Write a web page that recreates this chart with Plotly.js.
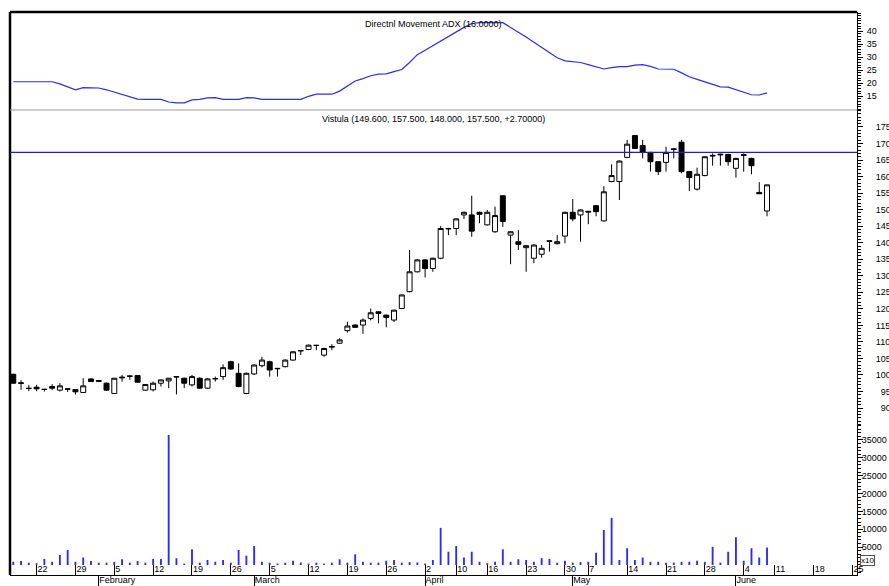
<!DOCTYPE html>
<html>
<head>
<meta charset="utf-8">
<script src="https://cdn.plot.ly/plotly-3.0.1.min.js"></script>
<style>html,body{margin:0;padding:0;background:#fff;}#chart{width:889px;height:586px;}</style>
</head>
<body>
<div id="chart"></div>
<script>
// ---------- data ----------
const firstDay = '2007-01-17';
const lastAxisDay = '2007-06-25';
const holidays = ['2007-04-06','2007-04-09','2007-05-01','2007-05-03','2007-06-07'];

const opens = [100.2,97.4,96.0,96.3,95.7,96.5,95.4,95.8,95.6,94.7, 98.8,98.3,97.5,94.4,99.1,99.7,99.8,95.4,95.5,97.5,
  98.2,99.5,99.0,97.0,99.0,96.0,98.8,99.5,104.0,100.5, 94.4,100.3,102.8,104.0,102.0,102.5,104.5,107.4,107.7,109.0,
  106.0,108.4,109.6,113.4,115.1,115.1,117.1,119.1,118.1,116.6, 120.1,125.2,131.2,134.8,132.2,135.3,144.3,144.3,148.4,148.4,
  149.2,145.4,143.3,154.2,142.3,140.3,138.5,135.3,136.5,140.6, 139.7,142.0,149.2,148.4,149.5,151.2,146.6,158.5,158.5,165.8,
  172.4,169.4,167.3,164.5,164.3,168.4,170.4,161.5,156.2,160.3, 166.2,166.8,166.7,162.5,166.4,165.5,155.2,149.6];
const highs = [100.4,98.4,97.0,97.0,95.8,97.2,97.5,95.9,95.7,99.0, 99.0,98.4,97.7,99.1,100.0,99.8,100.0,97.2,98.0,98.6,
  99.1,99.6,99.2,100.0,99.3,99.0,99.5,103.2,104.3,103.5, 100.7,103.2,105.5,104.3,102.1,104.7,107.2,107.5,109.2,109.1,
  108.2,109.3,111.1,116.1,115.3,117.1,120.1,119.2,118.2,119.7, 124.3,137.8,135.0,135.0,135.5,145.0,144.5,147.4,149.4,154.2,
  149.4,149.9,150.9,154.4,143.5,143.8,139.3,139.5,139.3,140.7, 142.3,149.4,153.2,150.1,149.6,151.4,157.1,163.7,164.9,171.1,
  172.6,171.1,167.5,164.7,169.0,168.5,171.1,161.7,162.7,166.2, 167.0,166.9,166.9,165.7,167.0,165.7,158.3,157.5];
const lows = [97.3,95.5,95.1,95.1,95.0,95.4,95.0,94.9,94.1,94.6, 97.9,97.9,95.2,94.3,98.0,98.5,97.7,95.2,95.0,96.5,
  96.0,94.1,96.0,96.5,95.8,95.8,98.0,98.5,101.5,96.3, 94.2,100.0,102.3,99.5,99.5,102.3,104.3,106.0,107.5,107.5,
  105.5,107.5,109.4,112.8,114.2,112.4,116.5,115.6,114.4,116.0, 120.0,125.0,131.0,129.5,131.2,135.0,142.3,142.3,147.2,141.8,
  145.9,145.2,143.0,144.8,133.5,137.8,131.2,133.8,135.5,137.3, 139.5,139.8,146.5,140.3,145.6,148.0,146.4,158.3,152.9,165.6,
  168.3,165.5,161.5,160.5,161.5,165.5,161.0,155.6,155.8,160.1, 163.3,163.3,163.3,159.7,161.5,160.7,154.8,148.0];
const closes = [97.5,97.6,95.9,95.8,95.6,96.0,96.7,95.7,94.9,96.7, 98.0,98.1,95.4,99.0,99.3,99.6,97.8,97.1,97.5,98.5,
  99.0,99.4,97.5,99.5,96.0,98.8,98.9,102.2,101.8,96.5, 100.5,103.0,104.5,101.5,101.9,104.5,107.0,107.3,109.0,108.9,
  108.0,108.6,110.6,114.8,114.4,116.6,118.8,118.6,117.4,119.6, 124.2,131.2,134.8,132.2,135.3,144.3,144.2,147.2,149.2,143.5,
  148.6,149.2,148.2,146.4,143.3,139.5,139.1,139.3,138.3,140.4, 140.3,149.2,147.2,149.9,149.3,149.4,155.4,160.3,164.7,169.8,
  168.5,167.3,164.5,161.5,167.3,168.2,161.5,159.7,160.7,166.0, 166.4,166.6,164.5,165.5,166.6,163.3,154.8,157.5];
const volumes = [900,1100,650,500,1700,900,2800,4200,900,2100, 1100,650,650,900,1600,650,1100,650,1700,1700,
  36400,1900,400,4400,650,1400,900,1400,650,4200, 2600,5300,900,650,400,650,1200,700,400,650,
  400,650,1600,650,3000,900,650,650,1200,1400, 650,800,700,400,1400,10400,3700,5300,2100,3700,
  900,500,900,4400,900,1600,1400,900,1900,1700, 650,1200,650,800,900,3400,9800,13200,1400,4700,
  1400,2100,900,900,650,650,900,900,1200,900, 5100,650,3700,7800,1200,4700,2100,4900];
const adx = [20.6,20.6,20.6,20.6,20.6,20.6,19.8,18.5,17.5,18.3, 18.3,18.2,17.5,16.6,15.7,14.8,13.9,13.8,13.8,13.8,
  12.8,12.5,12.5,13.6,13.8,14.4,14.5,13.8,13.8,13.8, 14.5,14.4,13.8,13.8,13.8,13.8,13.8,13.8,15.0,15.8,
  15.8,15.8,17.0,19.0,20.9,21.8,22.9,23.5,23.6,24.5, 25.3,28.0,31.0,32.7,34.5,36.3,38.0,39.8,41.5,43.0,
  43.3,43.3,43.3,43.3,41.5,39.8,37.8,35.8,33.8,31.8, 29.8,28.6,28.3,28.0,27.2,26.2,25.5,26.0,26.4,26.4,
  27.0,27.2,26.5,25.5,25.4,25.4,24.0,22.5,21.5,20.5, 19.5,18.6,18.5,17.5,16.5,15.6,15.5,16.3];
const resistanceLevel = 167.3;

const weekTickDates = ['2007-01-22','2007-01-29','2007-02-05','2007-02-12','2007-02-19','2007-02-26','2007-03-05',
  '2007-03-12','2007-03-19','2007-03-26','2007-04-02','2007-04-10','2007-04-16','2007-04-23','2007-04-30','2007-05-07',
  '2007-05-14','2007-05-21','2007-05-28','2007-06-04','2007-06-11','2007-06-18','2007-06-25'];
const weekTickLabels = ['22','29','5','12','19','26','5','12','19','26','2','10','16','23','30','7','14','21','28','4','11','18','25'];
const monthTickDates = ['2007-02-01','2007-03-01','2007-04-02','2007-05-02','2007-06-01'];
const monthTickLabels = ['February','March','April','May','June'];

const adxTicks = [15,20,25,30,35,40];
const priceTicks = [90,95,100,105,110,115,120,125,130,135,140,145,150,155,160,165,170,175];
const volumeTicks = [5000,10000,15000,20000,25000,30000,35000];

// ---------- trading calendar (x positions = trading-day index) ----------
const tradingDays = [];
(function(){
  let d = new Date(firstDay + 'T00:00:00Z');
  const end = new Date(lastAxisDay + 'T00:00:00Z');
  while (d <= end) {
    const wd = d.getUTCDay();
    const s = d.toISOString().slice(0,10);
    if (wd !== 0 && wd !== 6 && holidays.indexOf(s) < 0) tradingDays.push(s);
    d = new Date(d.getTime() + 86400000);
  }
})();
const dates = tradingDays.slice(0, closes.length);
const xIdx = dates.map((d,i)=>i);
const weekTickIdx = weekTickDates.map(d=>tradingDays.indexOf(d));
const monthTickIdx = monthTickDates.map(d=>tradingDays.indexOf(d));

const xRange = [-0.42, 108.58];
const n = closes.length;
const chg = closes[n-1] - closes[n-2];
const titleText = 'Vistula (' + opens[n-1].toFixed(3) + ', ' + highs[n-1].toFixed(3) + ', ' + lows[n-1].toFixed(3) + ', ' +
   closes[n-1].toFixed(3) + ', ' + (chg >= 0 ? '+' : '') + chg.toFixed(5) + ')';

const pad3 = a => a.map(v => { const s = String(v); return s.length < 3 ? '\u2007' + s : s; });

// ---------- geometry ----------
const dAdx = [0.82927, 1];
const dPrice = [0.28049, 0.82927];
const dVol = [0.019164, 0.28049];
const blue = '#2b2bff';
const tickFont = {family:'Liberation Sans, Arial, sans-serif', size:9, color:'#000'};

const traces = [
  {type:'scatter', mode:'lines', x:xIdx, y:adx, xaxis:'x', yaxis:'y', line:{color:blue, width:1.2}, hoverinfo:'skip'},
  {type:'candlestick', x:xIdx, open:opens, high:highs, low:lows, close:closes, xaxis:'x', yaxis:'y2',
   whiskerwidth:0,
   increasing:{line:{color:'#000', width:1}, fillcolor:'#ffffff'},
   decreasing:{line:{color:'#000', width:1}, fillcolor:'#000000'}, hoverinfo:'skip'},
  {type:'bar', x:xIdx, y:volumes, xaxis:'x', yaxis:'y3', width:0.24, marker:{color:blue, line:{width:0}}, hoverinfo:'skip'},
  {type:'scatter', mode:'markers', x:[], y:[], xaxis:'x2', yaxis:'y3', hoverinfo:'skip'}
];

const yBase = {side:'right', anchor:'x', showline:true, linecolor:'#000', linewidth:1, ticks:'outside', ticklen:5,
  tickcolor:'#000', tickwidth:1, showgrid:false, zeroline:false, tickmode:'array', tickfont:tickFont, fixedrange:true};

const layout = {
  width:889, height:586,
  margin:{l:10, r:32, t:12, b:0, pad:0},
  paper_bgcolor:'#fff', plot_bgcolor:'#fff',
  showlegend:false, hovermode:false,
  font:tickFont,
  boxgap:0.2, boxgroupgap:0.2,
  xaxis:{range:xRange, anchor:'y3', tickmode:'array', tickvals:weekTickIdx, ticktext:weekTickLabels,
    ticks:'inside', ticklen:10, tickcolor:'#000', tickwidth:1, ticklabelposition:'inside right', ticklabeloverflow:'allow',
    ticklabelstandoff:-3,
    showline:true, linecolor:'#000', linewidth:1, showgrid:false, zeroline:false, rangeslider:{visible:false},
    tickfont:tickFont, fixedrange:true},
  xaxis2:{range:xRange, anchor:'free', position:0, overlaying:'x', tickmode:'array', tickvals:monthTickIdx,
    ticktext:monthTickLabels, ticks:'inside', ticklen:11, tickcolor:'#000', tickwidth:1,
    ticklabelposition:'inside right', ticklabeloverflow:'allow', ticklabelstandoff:-5,
    showline:false, showgrid:false, zeroline:false,
    tickfont:tickFont, fixedrange:true},
  yaxis:Object.assign({}, yBase, {domain:dAdx, range:[9.73, 47.42], tickvals:adxTicks, ticktext:adxTicks.map(String),
    ticklabelstandoff:2, minor:{ticks:'outside', ticklen:3, tickcolor:'#000', tickmode:'linear', tick0:0, dtick:1}}),
  yaxis2:Object.assign({}, yBase, {domain:dPrice, range:[84.86, 180.14], tickvals:priceTicks, ticktext:pad3(priceTicks),
    ticklabelstandoff:11, minor:{ticks:'outside', ticklen:3, tickcolor:'#000', tickmode:'linear', tick0:0, dtick:1}}),
  yaxis3:Object.assign({}, yBase, {domain:dVol, range:[-2800, 39200], tickvals:volumeTicks, ticktext:volumeTicks.map(String),
    ticklabelstandoff:-3, minor:{ticks:'outside', ticklen:3, tickcolor:'#000', tickmode:'linear', tick0:0, dtick:1000}}),
  shapes:[
    {type:'line', xref:'paper', yref:'paper', x0:0, x1:0, y0:dVol[0], y1:1, line:{color:'#000', width:2.5}},
    {type:'line', xref:'paper', yref:'paper', x0:0, x1:1, y0:1, y1:1, line:{color:'#000', width:2.5}},
    {type:'line', xref:'paper', yref:'paper', x0:0, x1:1, y0:dAdx[0], y1:dAdx[0], line:{color:'#9a9a9a', width:1}},
    {type:'line', xref:'paper', yref:'y2', x0:0, x1:1, y0:resistanceLevel, y1:resistanceLevel, line:{color:'#1c1cd8', width:1.2}}
  ],
  annotations:[
    {xref:'paper', yref:'paper', x:0.5, y:0.979, xanchor:'center', yanchor:'middle', showarrow:false,
     text:'Directnl Movement ADX (16.0000)', font:{family:'Liberation Sans, Arial, sans-serif', size:9, color:'#000'}},
    {xref:'paper', yref:'paper', x:0.5, y:0.8136, xanchor:'center', yanchor:'middle', showarrow:false,
     text:titleText, font:{family:'Liberation Sans, Arial, sans-serif', size:9, color:'#000'}},
    {xref:'paper', yref:'paper', x:1.0035, y:0.0436, xanchor:'left', yanchor:'middle', showarrow:false,
     text:'x10', font:{family:'Liberation Sans, Arial, sans-serif', size:8, color:'#000'},
     bordercolor:'#555', borderwidth:1, borderpad:0, bgcolor:'#fff'}
  ]
};

Plotly.newPlot('chart', traces, layout, {staticPlot:true, displayModeBar:false});
</script>
</body>
</html>
